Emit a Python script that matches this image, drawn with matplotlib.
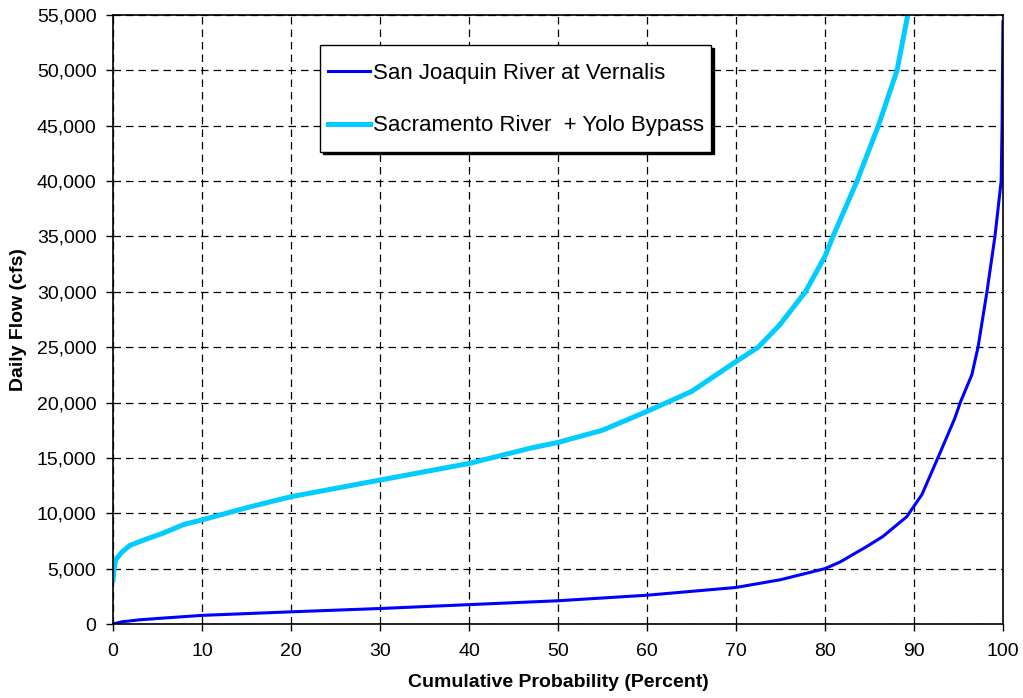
import matplotlib
matplotlib.use("Agg")
import matplotlib.pyplot as plt
from matplotlib.ticker import FuncFormatter
from matplotlib.transforms import Affine2D

plt.rcParams['font.family'] = ['Liberation Sans', 'DejaVu Sans']

# San Joaquin River at Vernalis (percent, cfs)
sj_pct = [0, 1, 3, 5, 10, 20, 30, 40, 50, 60, 70, 75, 80, 81.7, 84.7, 86.5,
          89.2, 90.9, 92.9, 94.6, 95.2, 96.5, 97.2, 98.2, 99.1, 99.8, 99.9, 100]
sj_flow = [0, 200, 380, 500, 780, 1100, 1400, 1750, 2100, 2600, 3300, 4000,
           5000, 5600, 7000, 7900, 9700, 11700, 15400, 18600, 20000, 22500,
           25000, 30000, 35000, 40000, 45000, 54400]

# Sacramento River + Yolo Bypass (percent, cfs)
sac_pct = [0, 0.1, 0.3, 1, 1.9, 3.5, 5.6, 8, 10, 15, 20, 30, 40, 47, 50, 55,
           60, 65, 70, 72.5, 74.9, 77.8, 80, 80.9, 83.6, 86.0, 88.1, 89.3]
sac_flow = [4000, 5000, 5800, 6500, 7100, 7600, 8200, 9000, 9400, 10500,
            11500, 13000, 14500, 15900, 16400, 17500, 19200, 21000, 23700,
            25000, 27000, 30000, 33200, 35000, 40000, 45000, 50000, 55000]

fig, ax = plt.subplots(figsize=(10.23, 6.98), dpi=100)
fig.subplots_adjust(left=0.1105, right=0.9804, top=0.9785, bottom=0.106)

ax.plot(sj_pct, sj_flow, color='#0000FF', lw=2.2, label='San Joaquin River at Vernalis')
ax.plot(sac_pct, sac_flow, color='#00CCFF', lw=3.6, label='Sacramento River  + Yolo Bypass')

ax.set_xlim(0, 100)
ax.set_ylim(0, 55000)
ax.set_xticks(range(0, 101, 10))
ax.set_yticks(range(0, 55001, 5000))
ax.yaxis.set_major_formatter(FuncFormatter(lambda v, p: f"{int(v):,}"))
ax.tick_params(direction='out', labelsize=14, length=5, width=1, pad=7)
ax.tick_params(axis='x', pad=9)
ax.grid(True, color='black', linestyle=(0, (6, 4)), linewidth=0.9)

for s in ax.spines.values():
    s.set_color('black')
    s.set_linewidth(1.2)

ax.set_xlabel('Cumulative Probability (Percent)', fontsize=14, fontweight='bold', labelpad=10)
ax.set_ylabel('Daily Flow (cfs)', fontsize=14, fontweight='bold', labelpad=7)

leg = ax.legend(loc='upper left', bbox_to_anchor=(0.233, 0.951), fontsize=16,
                fancybox=False, shadow={'color': 'black', 'alpha': 1},
                framealpha=1, edgecolor='black',
                handlelength=1.9, handleheight=2.4, labelspacing=0.55,
                borderpad=0.32, handletextpad=0.15, borderaxespad=0)
leg.get_frame().set_linewidth(1.0)
# line up the handle lines with the text
for ln in leg.get_lines():
    ln.set_transform(ln.get_transform() + Affine2D().translate(0, -6))

plt.savefig('out.png', dpi=100)
